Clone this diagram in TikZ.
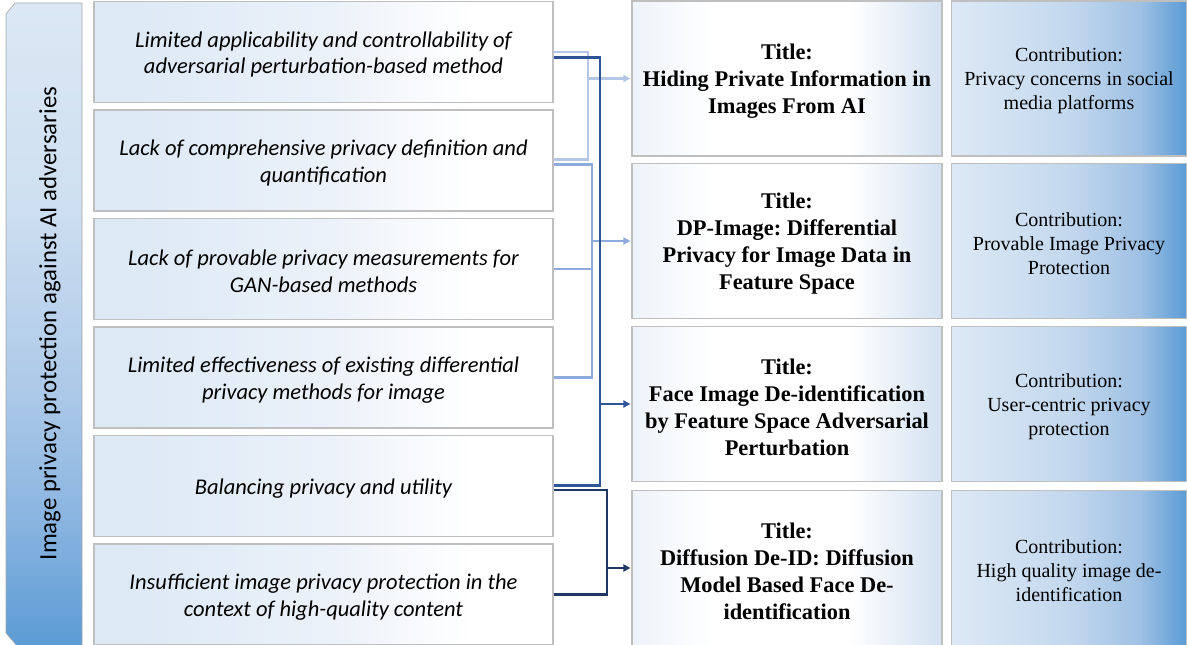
\documentclass[tikz,border=0pt]{standalone}
\usepackage{fontspec}
\setmainfont{Liberation Serif}
\newfontfamily\calfont{Carlito}
\usetikzlibrary{arrows.meta,calc}
\frenchspacing

% palette
\definecolor{boxgrey}{HTML}{BFBFBF}
\definecolor{bargrey}{HTML}{A6A6A6}
\definecolor{paleblue}{HTML}{DDE9F5}
\definecolor{probmid}{HTML}{EBF1F9}
\definecolor{titleleft}{HTML}{EEF3FA}
\definecolor{titleright}{HTML}{D3E1F1}
\definecolor{contribmid}{HTML}{C3D8EE}
\definecolor{contriblate}{HTML}{9FC1E4}
\definecolor{accent}{HTML}{5B9BD5}
\definecolor{barmid}{HTML}{ADC9E8}
\definecolor{barlow}{HTML}{8AB5E0}
\definecolor{bartop}{HTML}{DBE7F4}
\definecolor{barhigh}{HTML}{CFE0F1}
\definecolor{linkA}{HTML}{B4C7E7}
\definecolor{linkB}{HTML}{8FAADC}
\definecolor{linkC}{HTML}{2F5597}
\definecolor{linkD}{HTML}{203864}

% fills (the path spans 25bp to 75bp of each shading)
\pgfdeclarehorizontalshading{probfill}{100bp}{color(0bp)=(paleblue); color(29bp)=(paleblue); color(50bp)=(probmid); color(66bp)=(white); color(100bp)=(white)}
\pgfdeclarehorizontalshading{titlefill}{100bp}{color(0bp)=(titleleft); color(25bp)=(titleleft); color(38bp)=(white); color(60bp)=(white); color(75bp)=(titleright); color(100bp)=(titleright)}
\pgfdeclarehorizontalshading{contribfill}{100bp}{color(0bp)=(paleblue); color(25bp)=(paleblue); color(50bp)=(contribmid); color(65bp)=(contriblate); color(75bp)=(accent); color(100bp)=(accent)}
\pgfdeclareverticalshading{barfill}{100bp}{color(0bp)=(accent); color(25bp)=(accent); color(35bp)=(barlow); color(45bp)=(barmid); color(60bp)=(barhigh); color(75bp)=(bartop); color(100bp)=(bartop)}

\tikzset{
  prob/.style={draw=boxgrey, line width=1.1pt, shading=probfill,
    minimum width=459pt, minimum height=101pt, inner sep=0pt},
  probtext/.style={align=center, inner sep=0pt,
    font=\calfont\itshape\fontsize{22.5}{26.5}\selectfont},
  titlebox/.style={draw=boxgrey, line width=1.1pt, shading=titlefill,
    minimum width=310pt, minimum height=155pt, inner sep=0pt},
  titletext/.style={align=center, inner sep=0pt,
    font=\bfseries\fontsize{22.4}{27}\selectfont},
  contrib/.style={draw=boxgrey, line width=1.1pt, shading=contribfill,
    minimum width=235pt, minimum height=155pt, inner sep=0pt},
  contribtext/.style={align=center, inner sep=0pt,
    font=\fontsize{20}{24}\selectfont},
  link/.style={line width=2.2pt},
  tip/.style={-{Triangle[length=7pt,width=7pt]}, shorten >=1pt},
}

\begin{document}
\begin{tikzpicture}[x=1pt,y=-1pt]
\useasboundingbox (0,0) rectangle (1187,645);

% side bar with snipped left corners
\shade[shading=barfill, draw=bargrey, line width=0.6pt]
  (6,14) -- (15,3) -- (82,3) -- (82,647) -- (18,647) -- (6,633) -- cycle;
\node[rotate=90, font=\calfont\fontsize{24.8}{28}\selectfont] (bar) at (50,323.5)
  {Image privacy protection against AI adversaries};

% problem statements
\node[prob] (b1) at (323.5,52)    {};
\node[prob] (b2) at (323.5,160.5) {};
\node[prob] (b3) at (323.5,269)   {};
\node[prob] (b4) at (323.5,377.5) {};
\node[prob] (b5) at (323.5,486)   {};
\node[prob] (b6) at (323.5,594.5) {};
\node[probtext] (b1t) at ([yshift=-2.5pt]b1.center) {Limited applicability and controllability of\\adversarial perturbation-based method};
\node[probtext] (b2t) at ([yshift=-2.5pt]b2.center) {Lack of comprehensive privacy definition and\\quantification};
\node[probtext] (b3t) at ([yshift=-2.5pt]b3.center) {Lack of provable privacy measurements for\\GAN-based methods};
\node[probtext] (b4t) at ([yshift=-2.5pt]b4.center) {Limited effectiveness of existing differential\\privacy methods for image};
\node[probtext] (b5t) at ([yshift=-2.5pt]b5.center) {Balancing privacy and utility};
\node[probtext] (b6t) at ([yshift=-2.5pt]b6.center) {Insufficient image privacy protection in the\\context of high-quality content};

% papers
\node[titlebox] (T1) at (787,78.5) {};
\node[titlebox] (T2) at (787,241)  {};
\node[titlebox] (T3) at (787,404)  {};
\node[titlebox] (T4) at (787,568)  {};
\node[titletext] (T1t) at ([yshift=-3pt]T1.center) {Title:\\Hiding Private Information in\\Images From AI};
\node[titletext] (T2t) at ([yshift=-3pt]T2.center) {Title:\\DP-Image: Differential\\Privacy for Image Data in\\Feature Space};
\node[titletext] (T3t) at ([yshift=-3pt]T3.center) {Title:\\Face Image De-identification\\by Feature Space Adversarial\\Perturbation};
\node[titletext] (T4t) at ([yshift=-3pt]T4.center) {Title:\\Diffusion De-ID: Diffusion\\Model Based Face De-\\identification};

% contributions
\node[contrib] (C1) at (1069,78.5) {};
\node[contrib] (C2) at (1069,241)  {};
\node[contrib] (C3) at (1069,404)  {};
\node[contrib] (C4) at (1069,568)  {};
\node[contribtext] (C1t) at ([yshift=-2.5pt]C1.center) {Contribution:\\Privacy concerns in social\\media platforms};
\node[contribtext] (C2t) at ([yshift=-2.5pt]C2.center) {Contribution:\\Provable Image Privacy\\Protection};
\node[contribtext] (C3t) at ([yshift=-2.5pt]C3.center) {Contribution:\\User-centric privacy\\protection};
\node[contribtext] (C4t) at ([yshift=-2.5pt]C4.center) {Contribution:\\High quality image de-\\identification};

% bus joints
\coordinate (ka) at (588,159.5);
\coordinate (kb) at (592,377.5);
\coordinate (kc) at (600,485.5);
\coordinate (kd) at (607,594.5);

% first paper
\draw[link, linkA] (b1.east) -| (ka) -- ([yshift=1pt]b2.east);
\draw[link, linkA, tip] (T1.west -| ka) -- (T1.west);

% second paper
\draw[link, linkB] ([yshift=-4pt]b2.east) -| (kb) -- (b4.east);
\draw[link, linkB] (b3.east) -- (b3.east -| kb);
\draw[link, linkB, tip] (T2.west -| kb) -- (T2.west);

% fourth paper
\draw[link, linkD] ([yshift=-4pt]b5.east) -| (kd) -- (b6.east);
\draw[link, linkD, tip] (T4.west -| kd) -- (T4.west);

% third paper
\draw[link, linkC] ([yshift=-5.5pt]b1.east) -| (kc) -- ([yshift=0.5pt]b5.east);
\draw[link, linkC, tip] (T3.west -| kc) -- (T3.west);
\end{tikzpicture}
\end{document}
